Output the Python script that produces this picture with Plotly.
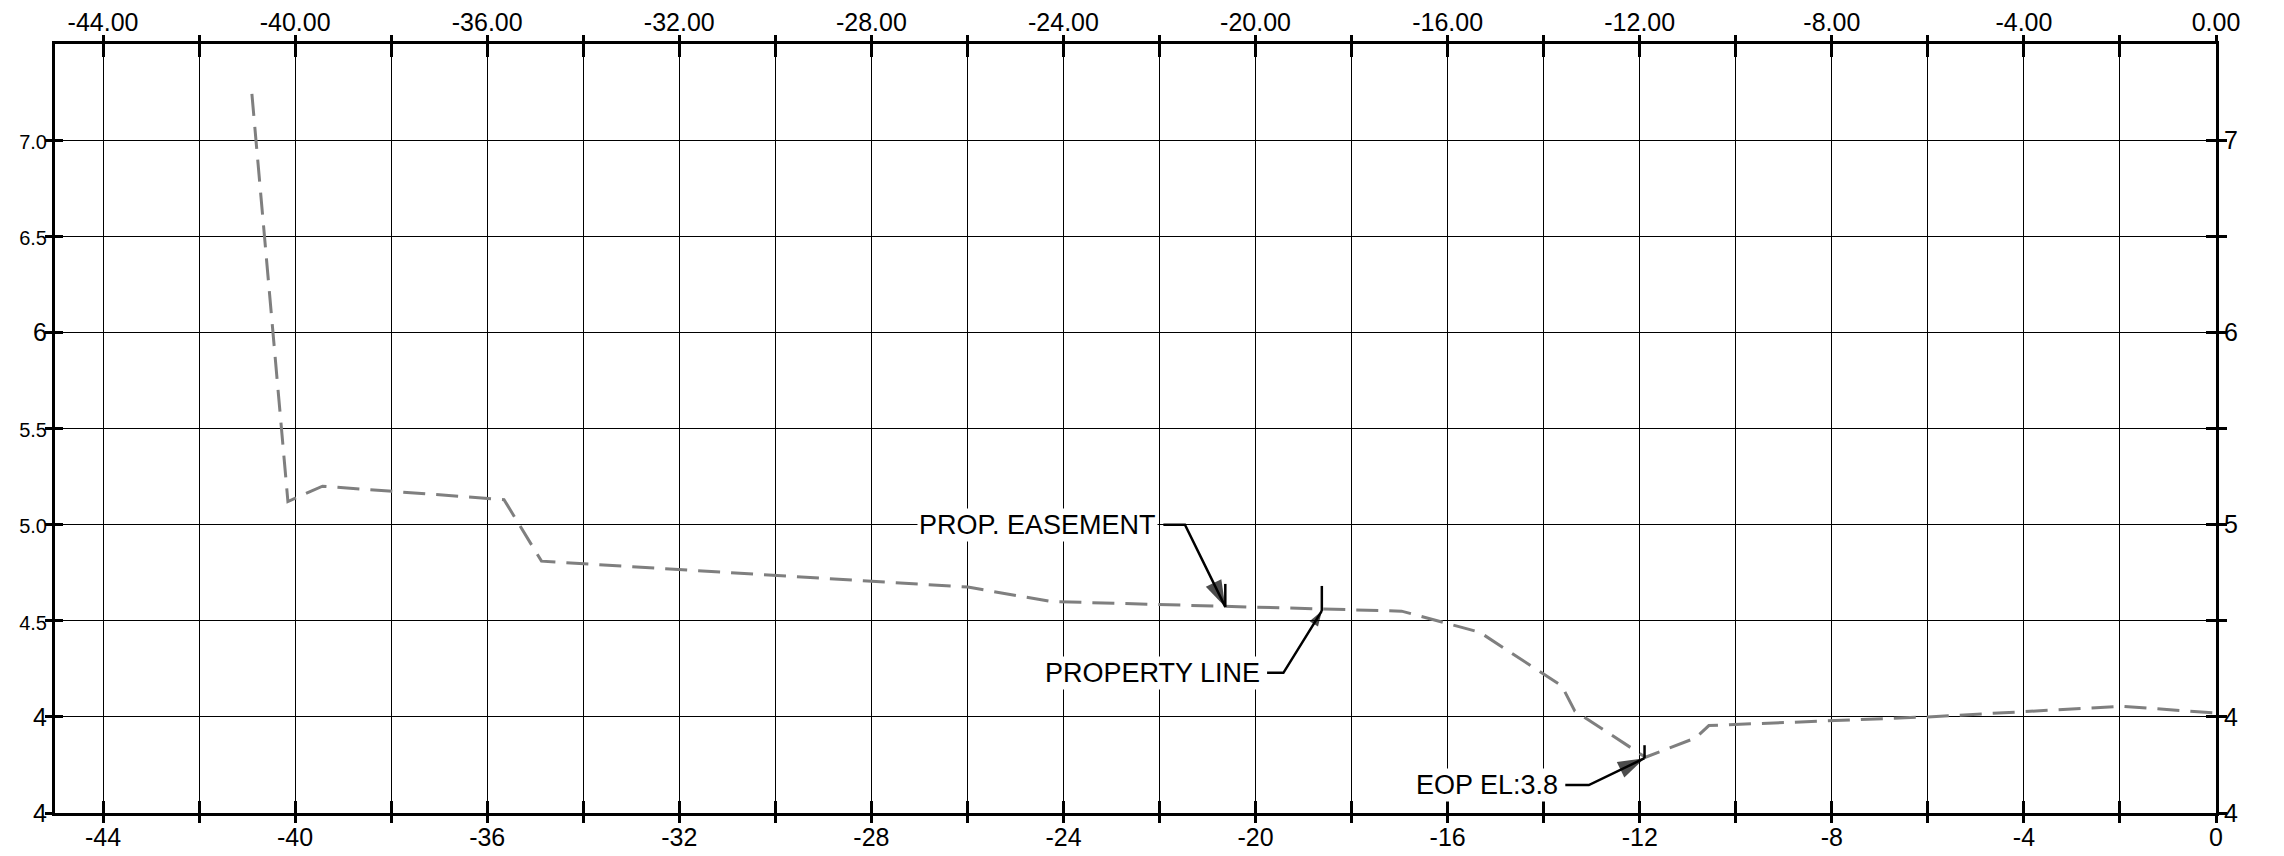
import plotly.graph_objects as go

# ---------------- data ----------------
# ground profile (offset, elevation)
sta = [-40.90, -40.15, -39.43, -35.65, -34.87, -25.99, -24.26, -20.61, -18.59,
       -16.96, -15.33, -13.62, -13.35, -11.88, -10.84, -10.56, -6.00, -1.97, 0.00]
elev = [7.24, 5.12, 5.20, 5.13, 4.81, 4.675, 4.60, 4.576, 4.562,
        4.55, 4.44, 4.16, 4.03, 3.79, 3.89, 3.955, 4.00, 4.055, 4.02]

# axis ticks and labels
x_ticks = [-44, -42, -40, -38, -36, -34, -32, -30, -28, -26, -24, -22,
           -20, -18, -16, -14, -12, -10, -8, -6, -4, -2, 0]
x_bottom_labels = ["-44", "", "-40", "", "-36", "", "-32", "", "-28", "", "-24", "",
                   "-20", "", "-16", "", "-12", "", "-8", "", "-4", "", "0"]
x_top_labels = ["-44.00", "", "-40.00", "", "-36.00", "", "-32.00", "", "-28.00", "",
                "-24.00", "", "-20.00", "", "-16.00", "", "-12.00", "", "-8.00", "",
                "-4.00", "", "0.00"]
y_ticks = [3.5, 4.0, 4.5, 5.0, 5.5, 6.0, 6.5, 7.0]
y_left_labels = ["4", "4", "4.5", "5.0", "5.5", "6", "6.5", "7.0"]
y_right_labels = ["4", "4", "", "5", "", "6", "", "7"]

# callouts
callout_labels = ["PROP. EASEMENT", "PROPERTY LINE", "EOP EL:3.8"]
callout_tip_x = [-20.63, -18.62, -11.90]
callout_tip_y = [4.572, 4.551, 3.785]
callout_elbow_x = [-21.47, -19.42, -13.06]
callout_text_x = [-21.92, -19.76, -13.55]
callout_text_y = [5.00, 4.229, 3.645]

# ---------------- styling ----------------
FONT = "Liberation Sans, Arial, sans-serif"
tick_marker_px = [23, 25, 13]
arrow_px = [28, 16, 28]


def small(lbl):
    return f'<span style="font-size:20px">{lbl}</span>' if "." in lbl else lbl


fig = go.Figure()

fig.add_trace(go.Scatter(
    x=sta, y=elev, mode="lines",
    line=dict(color="#7f7f7f", width=3, dash="22px,11px"),
    hoverinfo="skip", showlegend=False))

# leaders with arrow heads
for i in range(len(callout_labels)):
    fig.add_trace(go.Scatter(
        x=[callout_text_x[i], callout_elbow_x[i], callout_tip_x[i]],
        y=[callout_text_y[i], callout_text_y[i], callout_tip_y[i]],
        mode="lines+markers",
        line=dict(color="black", width=2.5),
        marker=dict(symbol="arrow", size=[0, 0, arrow_px[i]], color="black",
                    angleref="previous", line=dict(width=0)),
        hoverinfo="skip", showlegend=False))
    fig.add_shape(type="line", xref="x", yref="y", ysizemode="pixel",
                  yanchor=callout_tip_y[i], x0=callout_tip_x[i], x1=callout_tip_x[i],
                  y0=0, y1=tick_marker_px[i], line=dict(color="black", width=2.5))
    fig.add_annotation(x=callout_text_x[i], y=callout_text_y[i], text=callout_labels[i],
                       xanchor="right", yanchor="middle", showarrow=False, xshift=-5,
                       bgcolor="white", borderpad=1,
                       font=dict(family=FONT, size=27, color="black"))

# dummy traces so overlay axes render
for xa, ya in [("x2", "y2"), ("x3", "y3"), ("x4", "y4")]:
    fig.add_trace(go.Scatter(x=[None], y=[None], xaxis=xa, yaxis=ya,
                             showlegend=False, hoverinfo="skip"))

tick_font = dict(family=FONT, size=25, color="black")
xr = [-45, 0]
yr = [3.5, 7.5]
common_x = dict(range=xr, tickvals=x_ticks, tickcolor="black", tickwidth=2.5,
                zeroline=False, fixedrange=True, tickfont=tick_font, linecolor="black",
                automargin=False)
common_y = dict(range=yr, tickvals=y_ticks, tickcolor="black", tickwidth=2.5,
                zeroline=False, fixedrange=True, tickfont=tick_font, linecolor="black",
                automargin=False)

fig.update_layout(
    width=2284, height=856, autosize=False,
    margin=dict(l=55, r=68, t=44, b=43, pad=0, autoexpand=False),
    paper_bgcolor="white", plot_bgcolor="white",
    font=dict(family=FONT, color="black"),
    # labelled axes carry the inner tick halves
    xaxis=dict(**common_x, side="bottom", anchor="y", ticktext=x_bottom_labels,
               ticks="inside", ticklen=12, showline=True, linewidth=3,
               showgrid=True, gridcolor="black", gridwidth=1),
    xaxis2=dict(**common_x, side="top", anchor="y", overlaying="x",
                ticktext=x_top_labels, ticks="inside", ticklen=13,
                showline=True, linewidth=3, showgrid=False),
    # unlabelled overlay axes carry the outer tick halves
    xaxis3=dict(**common_x, side="bottom", anchor="y", overlaying="x",
                ticks="outside", ticklen=9, showticklabels=False,
                showline=False, showgrid=False),
    xaxis4=dict(**common_x, side="top", anchor="y", overlaying="x",
                ticks="outside", ticklen=8, showticklabels=False,
                showline=False, showgrid=False),
    yaxis=dict(**common_y, side="left", anchor="x",
               ticktext=[small(t) for t in y_left_labels],
               ticks="inside", ticklen=8, showline=True, linewidth=3,
               showgrid=True, gridcolor="black", gridwidth=1),
    yaxis2=dict(**common_y, side="right", anchor="x", overlaying="y",
                ticktext=y_right_labels, ticks="inside", ticklen=10,
                showline=True, linewidth=3, showgrid=False),
    yaxis3=dict(**common_y, side="left", anchor="x", overlaying="y",
                ticks="outside", ticklen=9, showticklabels=False,
                showline=False, showgrid=False),
    yaxis4=dict(**common_y, side="right", anchor="x", overlaying="y",
                ticks="outside", ticklen=10, showticklabels=False,
                showline=False, showgrid=False),
)

fig.write_html("out.html", config={"displayModeBar": False},
               post_script="document.body.style.margin='0';document.body.style.overflow='hidden';")
